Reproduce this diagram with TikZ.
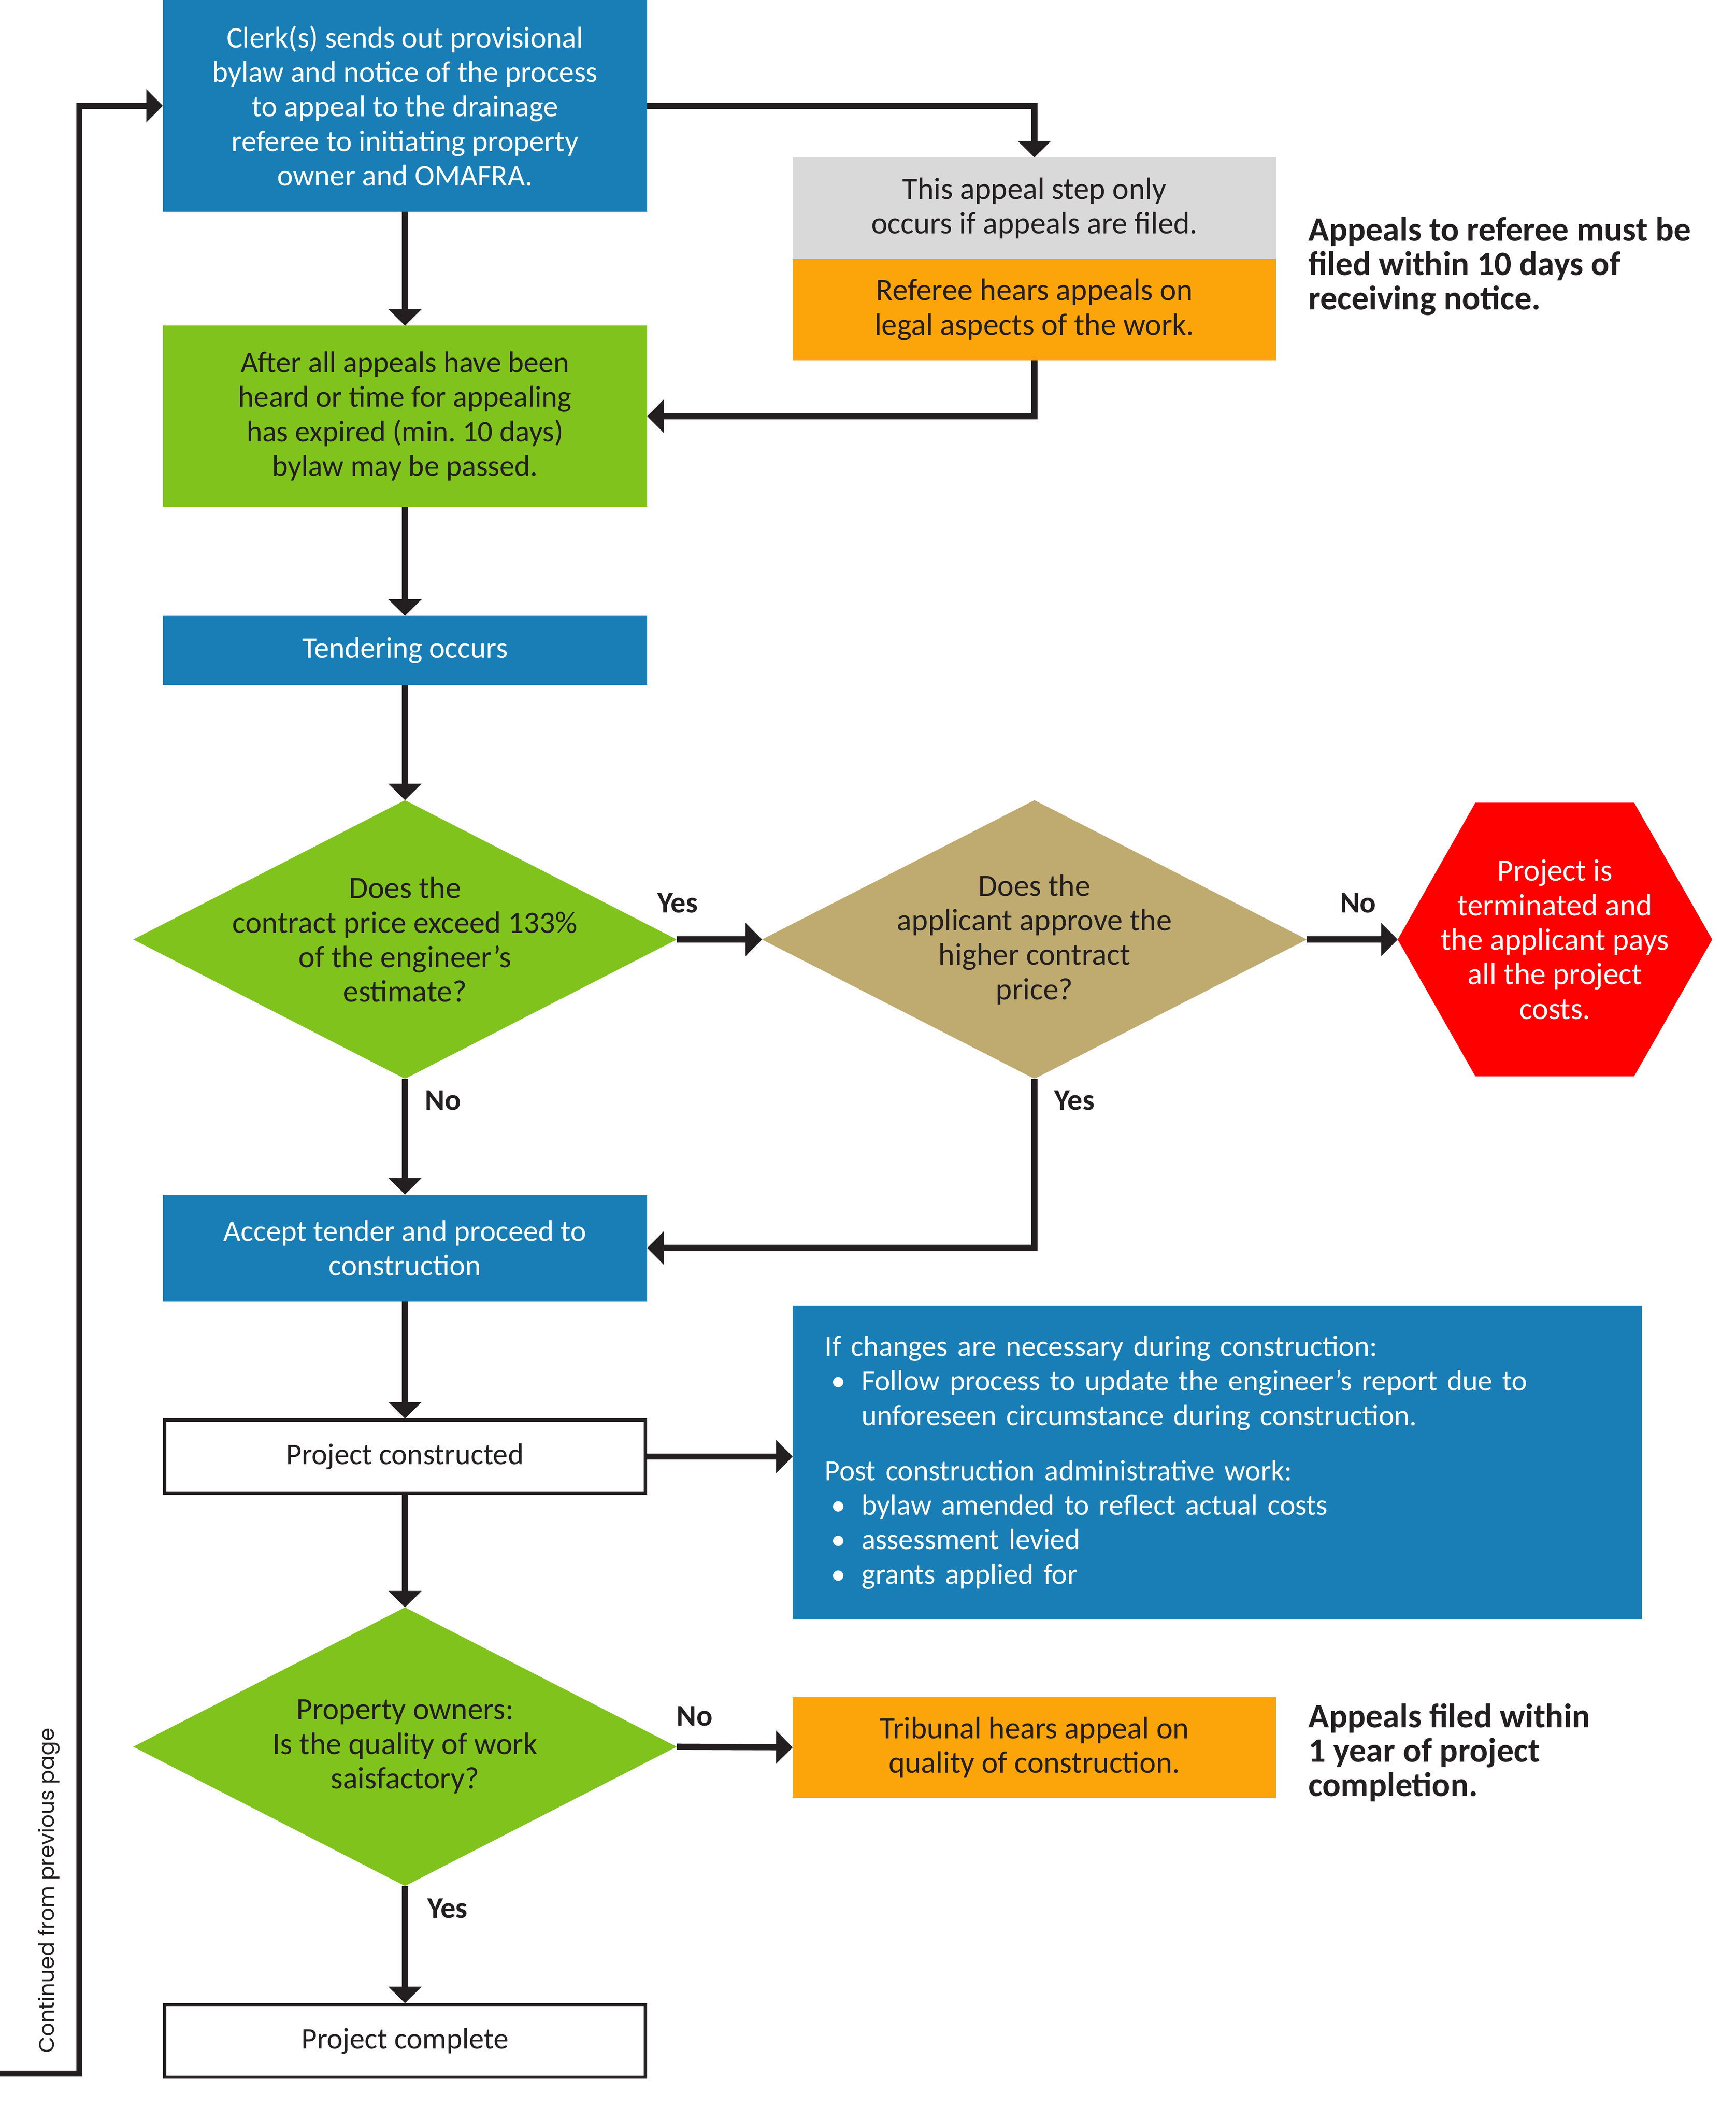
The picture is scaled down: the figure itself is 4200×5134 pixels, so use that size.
\documentclass[tikz,border=0pt]{standalone}
\usepackage{fontspec}
\setmainfont{Carlito}
\newfontfamily\contfont{Poppins}
\usetikzlibrary{arrows.meta,shapes.geometric,calc}
\frenchspacing
\definecolor{cblue}{RGB}{26,126,182}
\definecolor{cgreen}{RGB}{129,195,29}
\definecolor{ctan}{RGB}{191,171,111}
\definecolor{corange}{RGB}{252,165,10}
\definecolor{cgray}{RGB}{217,217,217}
\definecolor{cred}{RGB}{255,0,0}
\definecolor{cdark}{RGB}{35,31,32}
\tikzset{
  txt/.style={font=\fontsize{14.5}{16.7}\selectfont},
  txtb/.style={font=\fontsize{15}{16.7}\selectfont},
  box/.style={rectangle, minimum width=234.4pt, inner sep=0pt, outer sep=0pt, align=center, txt},
  bluebox/.style={box, fill=cblue, text=white},
  greenbox/.style={box, fill=cgreen, text=cdark},
  graybox/.style={box, txtb, fill=cgray, text=cdark},
  orangebox/.style={box, txtb, fill=corange, text=cdark},
  whitebox/.style={box, draw=cdark, line width=1.6pt, fill=white, text=cdark, minimum width=232.8pt, outer sep=0.8pt},
  dshape/.style={diamond, inner sep=0pt, outer sep=0pt, minimum width=263pt, minimum height=134.8pt},
  dtext/.style={align=center, txtb, inner sep=0pt},
  arr/.style={draw=cdark, line width=3pt, -{Triangle[length=8pt,width=15.6pt]}},
  lbl/.style={font=\bfseries\fontsize{14.5}{16.7}\selectfont, text=cdark, inner sep=0pt},
  note/.style={font=\bfseries\fontsize{16.5}{16.7}\selectfont, text=cdark, inner sep=0pt, align=left, anchor=west},
}
\begin{document}
\begin{tikzpicture}[x=0.2pt, y=-0.2pt]
\useasboundingbox (0,0) rectangle (4200,5134);
% main column
\node[bluebox, minimum height=102.4pt] (clerk) at (980,256)
  {Clerk(s) sends out provisional\\bylaw and notice of the process\\to appeal to the drainage\\referee to initiating property\\owner and OMAFRA.};
\node[greenbox, minimum height=87.6pt] (passed) at (980,1007)
  {After all appeals have been\\heard or time for appealing\\has expired (min. 10 days)\\bylaw may be passed.};
\node[bluebox, minimum height=33.4pt] (tender) at (980,1573.5) {Tendering occurs};
\node[dshape, fill=cgreen] (d1) at (980,2273) {};
\node[dtext, text=cdark] (d1t) at (d1.center) {Does the\\contract price exceed 133\%\\of the engineer’s\\estimate?};
\node[bluebox, minimum height=51.8pt] (accept) at (980,3019.5) {Accept tender and proceed to\\construction};
\node[whitebox, minimum height=35.2pt] (built) at (980,3524) {Project constructed};
\node[dshape, fill=cgreen] (d3) at (980,4226) {};
\node[dtext, text=cdark] (d3t) at (d3.center) {Property owners:\\Is the quality of work\\saisfactory?};
\node[whitebox, minimum height=35pt] (done) at (980,4938) {Project complete};
% right column
\node[graybox, minimum width=234pt, minimum height=49pt] (gray) at (2503,503.5) {This appeal step only\\occurs if appeals are filed.};
\node[orangebox, minimum width=234pt, minimum height=49.2pt] (orange) at (2503,749) {Referee hears appeals on\\legal aspects of the work.};
\node[dshape, fill=ctan, minimum width=263.6pt] (d2) at (2503,2273) {};
\node[dtext, text=cdark] (d2t) at (d2.center) {Does the\\applicant approve the\\higher contract\\price?};
\fill[cred] (3382,2273) -- (3570,1942) -- (3954,1942) -- (4143,2273) -- (3954,2604) -- (3570,2604) -- cycle;
\node[dtext, text=white, minimum width=152.2pt, minimum height=132.4pt, outer sep=0pt] (hex) at (3762.5,2273)
  {Project is\\terminated and\\the applicant pays\\all the project\\costs.};
\node[rectangle, fill=cblue, text=white, font=\fontsize{14.2}{16.7}\selectfont, align=left, inner xsep=15.6pt, inner ysep=0pt, outer sep=0pt,
      text width=379.8pt, minimum height=152pt] (info) at (2945.5,3538)
  {If changes are necessary during construction:\\
   \hspace*{3pt}\makebox[14.8pt][l]{\textbullet}Follow process to update the engineer’s report due to\\
   \hspace*{17.8pt}unforeseen circumstance during construction.\\[10pt]
   Post construction administrative work:\\
   \hspace*{3pt}\makebox[14.8pt][l]{\textbullet}bylaw amended to reflect actual costs\\
   \hspace*{3pt}\makebox[14.8pt][l]{\textbullet}assessment levied\\
   \hspace*{3pt}\makebox[14.8pt][l]{\textbullet}grants applied for};
\node[orangebox, minimum width=234pt, minimum height=48.6pt] (trib) at (2503,4227.5) {Tribunal hears appeal on\\quality of construction.};
% notes
\node[note] (note1) at (3165,644) {Appeals to referee must be\\filed within 10 days of\\receiving notice.};
\node[note] (note2) at (3165,4240) {Appeals filed within\\1 year of project\\completion.};
% side text
\node[rotate=90, font=\contfont\fontsize{10.25}{12}\selectfont, text=cdark, inner sep=0pt] (cont) at (118,4574) {Continued from previous page};
% connectors
\coordinate (loopstart) at (0,5017);
\draw[arr] (loopstart) -- (192,5017) |- (clerk.west);
\draw[arr] (clerk.east) -| (gray.north);
\draw[arr] (orange.south) |- (passed.east);
\draw[arr] (clerk.south) -- (passed.north);
\draw[arr] (passed.south) -- (tender.north);
\draw[arr] (tender.south) -- (d1.north);
\draw[arr] (d1.east) -- (d2.west);
\draw[arr] (d2.east) -- (hex.west);
\draw[arr] (d1.south) -- (accept.north);
\draw[arr] (d2.south) |- (accept.east);
\draw[arr] (accept.south) -- (built.north);
\draw[arr] (built.east) -- (built.east -| info.west);
\draw[arr] (built.south) -- (d3.north);
\draw[arr] (d3.east) -- (trib.west);
\draw[arr] (d3.south) -- (done.north);
% labels
\node[lbl] (l1) at (1640,2185) {Yes};
\node[lbl] (l2) at (3286,2185) {No};
\node[lbl] (l3) at (1072,2662) {No};
\node[lbl] (l4) at (2600,2662) {Yes};
\node[lbl] (l5) at (1681,4152) {No};
\node[lbl] (l6) at (1083,4617) {Yes};
\end{tikzpicture}
\end{document}
